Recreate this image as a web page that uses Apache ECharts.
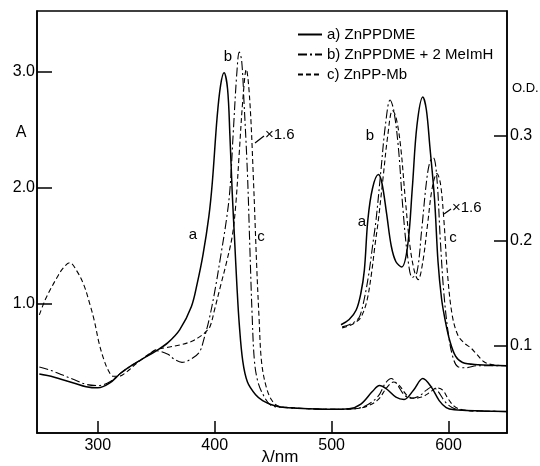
<!DOCTYPE html>
<html>
<head>
<meta charset="utf-8">
<script src="https://cdn.jsdelivr.net/npm/echarts@6/dist/echarts.min.js"></script>
<style>
  html, body { margin: 0; padding: 0; background: #fff; }
  #chart { width: 540px; height: 466px; }
</style>
</head>
<body>
<div id="chart"></div>
<script>
// wavelength (nm) / absorbance, main spectra
var wlA  = [250,260,270,280,290,300,310,320,330,340,350,360,370,380,385,390,395,398,402,405,408,411,413,415,417,419,421,424,428,435,441,450,460,480,500,515,525,535,541,547,555,562,570,578,585,592,598,605,615,630,650];
var absA = [0.39,0.37,0.34,0.31,0.28,0.27,0.31,0.40,0.47,0.53,0.59,0.66,0.77,0.97,1.17,1.42,1.75,2.05,2.60,2.88,2.99,2.85,2.45,1.95,1.55,1.15,0.82,0.50,0.32,0.21,0.16,0.12,0.10,0.09,0.085,0.09,0.13,0.24,0.29,0.26,0.19,0.17,0.25,0.35,0.28,0.16,0.10,0.08,0.075,0.07,0.065];

var wlB  = [250,260,270,280,290,300,310,320,330,340,350,360,365,372,380,387,391,395,400,405,410,413,416,419,421,423,425,428,430,432,434,437,442,448,460,480,500,520,530,540,546,551,556,562,568,575,581,586,591,597,603,610,625,650];
var absB = [0.45,0.42,0.38,0.34,0.30,0.29,0.32,0.40,0.47,0.53,0.59,0.56,0.52,0.49,0.52,0.58,0.70,0.85,1.10,1.40,1.72,1.98,2.50,3.00,3.17,3.10,2.75,2.12,1.50,0.90,0.50,0.32,0.20,0.12,0.10,0.09,0.085,0.09,0.12,0.20,0.31,0.35,0.30,0.21,0.18,0.20,0.25,0.28,0.24,0.15,0.10,0.08,0.07,0.065];

var wlC  = [250,255,260,265,270,276,282,288,293,297,301,305,309,313,318,325,333,342,350,360,370,380,387,392,396,400,405,410,415,418,421,424,427,430,433,436,438,440,444,449,455,465,480,500,520,530,540,547,553,558,564,570,577,584,590,595,600,605,612,625,650];
var absC = [0.90,1.03,1.13,1.22,1.30,1.35,1.28,1.16,1.00,0.85,0.66,0.52,0.42,0.37,0.37,0.41,0.48,0.55,0.60,0.62,0.64,0.67,0.71,0.75,0.80,0.95,1.15,1.35,1.58,1.85,2.30,2.75,3.02,2.75,2.10,1.30,0.86,0.50,0.28,0.16,0.11,0.10,0.09,0.085,0.09,0.11,0.17,0.27,0.32,0.29,0.21,0.18,0.19,0.23,0.27,0.25,0.17,0.11,0.08,0.07,0.065];

// inset, x1.6 (O.D.)
var wlIA = [508,515,521,525,528,531,535,540,543,547,551,555,560,565,569,573,578,581,584,588,591,594,597,601,606,612,625,650];
var odIA = [0.120,0.125,0.134,0.150,0.172,0.220,0.250,0.263,0.255,0.226,0.195,0.180,0.175,0.195,0.250,0.310,0.337,0.325,0.290,0.240,0.180,0.145,0.125,0.105,0.090,0.084,0.082,0.081];

var wlIB = [509,515,520,524,528,532,535,538,542,546,550,553,557,561,565,569,573,577,581,584,587,590,593,596,600,604,608,614,625,650];
var odIB = [0.118,0.120,0.123,0.128,0.145,0.170,0.195,0.220,0.265,0.310,0.334,0.325,0.290,0.230,0.185,0.165,0.170,0.210,0.255,0.275,0.279,0.260,0.200,0.150,0.110,0.088,0.080,0.079,0.081,0.081];

var wlIC = [509,515,520,525,530,534,537,540,544,548,552,555,559,563,567,571,574,578,582,586,590,593,596,599,603,608,614,619,624,630,637,650];
var odIC = [0.117,0.119,0.122,0.127,0.142,0.168,0.195,0.220,0.260,0.300,0.324,0.318,0.290,0.240,0.195,0.170,0.163,0.180,0.215,0.250,0.264,0.255,0.220,0.170,0.130,0.110,0.102,0.098,0.092,0.085,0.082,0.081];

var names = ['a) ZnPPDME', 'b) ZnPPDME + 2 MeImH', 'c) ZnPP-Mb'];
var xTicks = [300, 400, 500, 600];
var aTicks = [1, 2, 3];
var odTicks = [0.1, 0.2, 0.3];

function zip(xs, ys) {
    var out = [];
    for (var i = 0; i < xs.length; i++) out.push([xs[i], ys[i]]);
    return out;
}

var FONT = 'Liberation Sans';
var solid = { color: '#000', width: 1.5, type: 'solid' };
var dashDot = { color: '#000', width: 1.1, type: [9, 3, 2, 3] };
var dashed = { color: '#000', width: 1.1, type: [5, 3] };

function line(name, data, style, axis) {
    return {
        name: name, type: 'line', data: data, yAxisIndex: axis,
        symbol: 'none', smooth: 0.35, lineStyle: style, itemStyle: { color: '#000' },
        animation: false, z: 3
    };
}

function txt(t, x, y, align, size) {
    return {
        type: 'text', x: x, y: y,
        style: { text: t, fill: '#000', font: (size || 15) + 'px ' + FONT, textAlign: align || 'center', textVerticalAlign: 'middle' }
    };
}

var myChart = echarts.init(document.getElementById('chart'));
var option = {
    backgroundColor: '#fff',
    animation: false,
    grid: { left: 37, right: 33, top: 11, bottom: 33, show: true, borderColor: '#000', borderWidth: 1.5 },
    legend: {
        data: names, orient: 'vertical', left: 292, top: 22,
        itemWidth: 24, itemHeight: 12, itemGap: 5,
        itemStyle: { opacity: 0 },
        textStyle: { fontFamily: FONT, fontSize: 15, color: '#000' },
        selectedMode: false
    },
    xAxis: {
        type: 'value', min: 248, max: 650,
        axisLine: { onZero: false, lineStyle: { color: '#000', width: 1.5 } },
        axisTick: { inside: true, length: 12, customValues: xTicks, lineStyle: { color: '#000', width: 1.5 } },
        axisLabel: { customValues: xTicks, fontFamily: FONT, fontSize: 16, color: '#000', margin: 5 },
        splitLine: { show: false }
    },
    yAxis: [{
        type: 'value', min: -0.12, max: 3.524, position: 'left',
        axisLine: { show: true, lineStyle: { color: '#000', width: 1.5 } },
        axisTick: { show: true, inside: true, length: 15, customValues: aTicks, lineStyle: { color: '#000', width: 1.5 } },
        axisLabel: { customValues: aTicks, formatter: function (v) { return v.toFixed(1); }, fontFamily: FONT, fontSize: 16, color: '#000', margin: 2 },
        splitLine: { show: false }
    }, {
        type: 'value', min: 0.0169, max: 0.4188, position: 'right',
        axisLine: { show: true, lineStyle: { color: '#000', width: 1.5 } },
        axisTick: { show: true, inside: true, length: 13, customValues: odTicks, lineStyle: { color: '#000', width: 1.5 } },
        axisLabel: { customValues: odTicks, formatter: function (v) { return v.toFixed(1); }, fontFamily: FONT, fontSize: 16, color: '#000', margin: 3 },
        splitLine: { show: false }
    }],
    series: [
        line(names[0], zip(wlA, absA), solid, 0),
        line(names[1], zip(wlB, absB), dashDot, 0),
        line(names[2], zip(wlC, absC), dashed, 0),
        line(names[0], zip(wlIA, odIA), solid, 1),
        line(names[1], zip(wlIB, odIB), dashDot, 1),
        line(names[2], zip(wlIC, odIC), dashed, 1)
    ],
    graphic: [
        txt('A', 21, 133, 'center', 16),
        txt('O.D.', 512, 88, 'left', 13),
        txt('\u03bb/nm', 280, 457, 'center', 17),
        txt('a', 193, 235),
        txt('b', 228, 57),
        txt('c', 261, 237),
        txt('\u00d71.6', 265, 135, 'left'),
        { type: 'line', shape: { x1: 255, y1: 143, x2: 264, y2: 136 }, style: { stroke: '#000', lineWidth: 1.2 } },
        txt('b', 370, 136),
        txt('a', 362, 222),
        txt('c', 453, 238),
        txt('\u00d71.6', 452, 208, 'left'),
        { type: 'line', shape: { x1: 444, y1: 214, x2: 451, y2: 209 }, style: { stroke: '#000', lineWidth: 1.2 } }
    ]
};
myChart.setOption(option);
</script>
</body>
</html>
